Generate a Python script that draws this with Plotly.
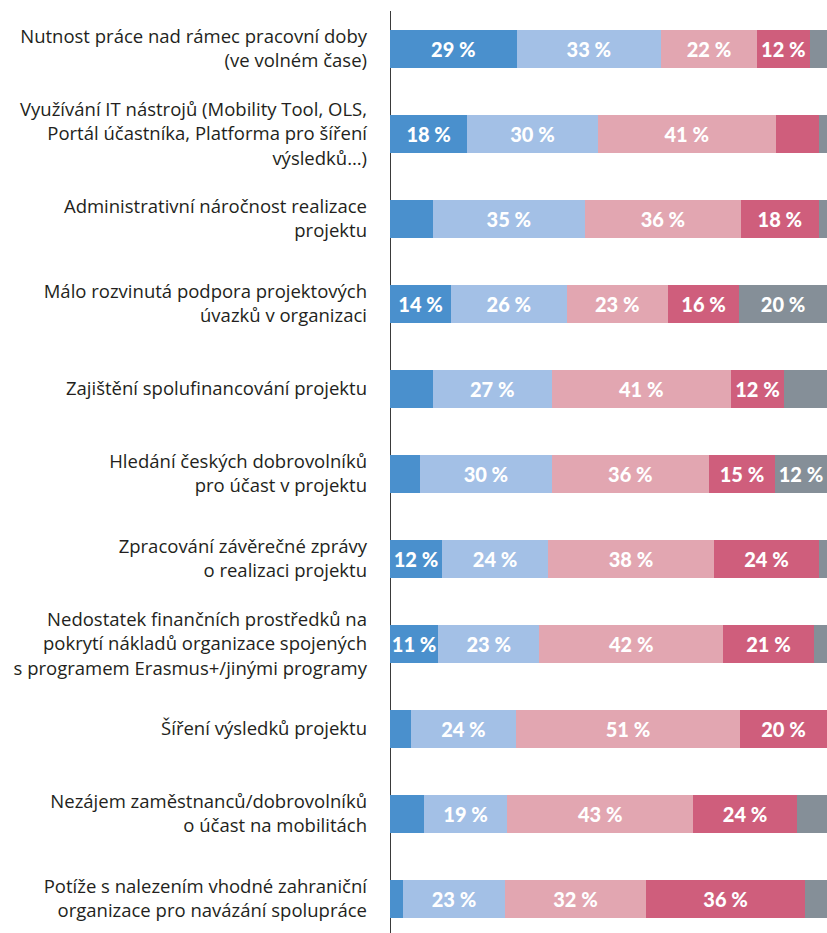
import plotly.graph_objects as go

categories = [
    "Nutnost práce nad rámec pracovní doby<br>(ve volném čase)",
    "Využívání IT nástrojů (Mobility Tool, OLS,<br>Portál účastníka, Platforma pro šíření<br>výsledků…)",
    "Administrativní náročnost realizace<br>projektu",
    "Málo rozvinutá podpora projektových<br>úvazků v organizaci",
    "Zajištění spolufinancování projektu",
    "Hledání českých dobrovolníků<br>pro účast v projektu",
    "Zpracování závěrečné zprávy<br>o realizaci projektu",
    "Nedostatek finančních prostředků na<br>pokrytí nákladů organizace spojených<br>s programem Erasmus+/jinými programy",
    "Šíření výsledků projektu",
    "Nezájem zaměstnanců/dobrovolníků<br>o účast na mobilitách",
    "Potíže s nalezením vhodné zahraniční<br>organizace pro navázání spolupráce",
]

# five answer levels (stacked left to right), values in %
series_1 = [29, 17.7, 9.8, 14.0, 9.8, 6.9, 11.9, 11.0, 4.8, 7.8, 3.0]
series_2 = [33, 29.8, 34.8, 26.4, 27.2, 30.1, 24.3, 23.2, 24.0, 19.0, 23.3]
series_3 = [22, 40.8, 35.7, 23.2, 41.0, 36.0, 37.9, 42.0, 51.3, 42.6, 32.3]
series_4 = [12, 9.9, 17.8, 16.3, 12.2, 15.1, 24.1, 20.8, 19.9, 23.7, 36.4]
series_5 = [4, 1.8, 1.9, 20.1, 9.8, 11.9, 1.8, 3.0, 0.0, 6.9, 5.0]

series = [series_1, series_2, series_3, series_4, series_5]
colors = ["#4a90cd", "#a3c0e6", "#e2a6b1", "#cf5e7c", "#858f98"]

y_idx = list(range(len(categories)))

fig = go.Figure()
for vals, col in zip(series, colors):
    labels = [f"{round(v)} %" if v >= 10.5 else "" for v in vals]
    fig.add_trace(go.Bar(
        x=vals, y=y_idx, orientation="h",
        marker=dict(color=col, line=dict(width=0)),
        text=labels, textposition="inside", insidetextanchor="middle",
        textangle=0, constraintext="none",
        textfont=dict(family="Lato", size=20, color="white", weight=900),
        hoverinfo="skip", showlegend=False,
    ))

fig.update_layout(
    barmode="stack",
    bargap=0.553,
    width=827, height=933,
    margin=dict(l=390, r=0, t=11, b=0),
    paper_bgcolor="white", plot_bgcolor="white",
    xaxis=dict(range=[0, 100], visible=False, fixedrange=True),
    yaxis=dict(
        range=[10.4, -0.447],
        tickmode="array", tickvals=y_idx, ticktext=categories,
        tickfont=dict(family="Open Sans", size=18.5, color="#231f20"),
        showgrid=False, zeroline=False, showline=False,
        ticks="", ticklabelstandoff=22,
    ),
    shapes=[dict(type="line", xref="x", yref="paper", x0=0, x1=0, y0=0, y1=1,
                 line=dict(color="#3a3a3a", width=2), layer="below")],
)

fig.write_html("out.html", config={"displayModeBar": False},
               post_script="document.body.style.margin='0';document.body.style.overflow='hidden';")
